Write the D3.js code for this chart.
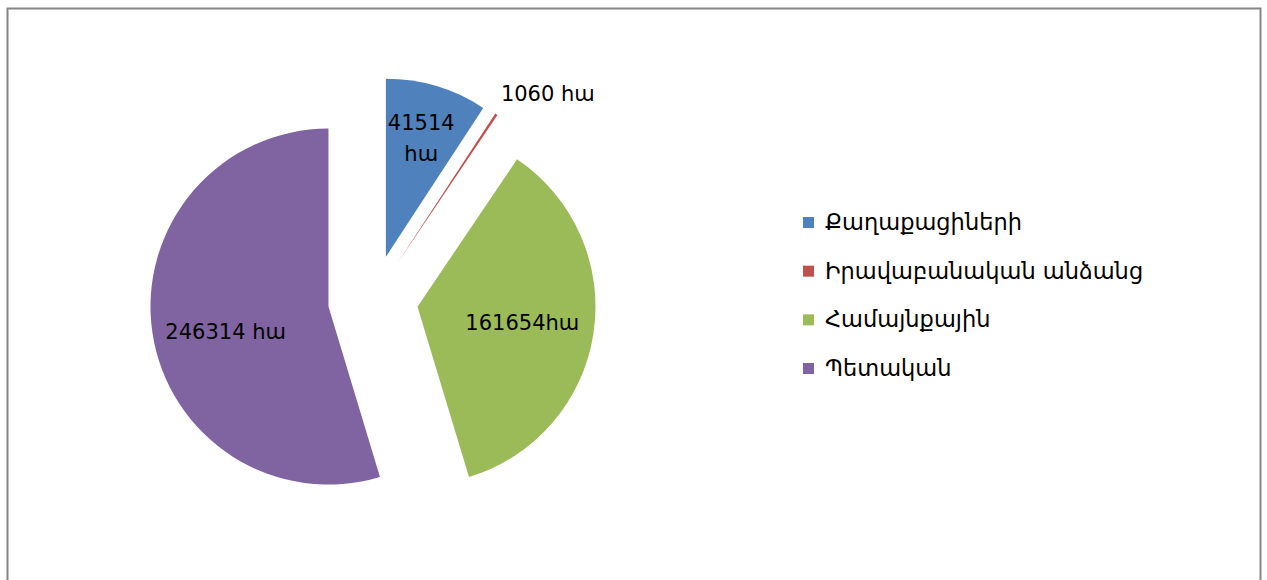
<!DOCTYPE html>
<html>
<head>
<meta charset="utf-8">
<script src="https://cdn.jsdelivr.net/npm/d3@7"></script>
<style>
  body { margin: 0; background: #fff; }
  svg { display: block; }
  text { font-family: "DejaVu Sans", "Noto Sans", sans-serif; fill: #000; }
</style>
</head>
<body>
<svg width="1267" height="580"></svg>
<script>
var categories = ['Քաղաքացիների', 'Իրավաբանական անձանց', 'Համայնքային', 'Պետական'];
var values = [41514, 1060, 161654, 246314];
var labels = [['41514', 'հա'], ['1060 հա'], ['161654հա'], ['246314 հա']];
var colors = ['#4f81bd', '#c0504d', '#9bbb59', '#8064a2'];

var width = 1267, height = 580;
var center = {x: 373, y: 300};
var radius = 178;
var explode = 45;
// label distance from slice apex, plus a small nudge (Excel's best fit placement)
var labelDist = [124, 224, 106, 106];
var labelNudge = [[0, 0], [26, 18], [0, 0], [2, 10]];

var svg = d3.select('svg');

// chart frame
svg.append('rect')
  .attr('x', 7.5).attr('y', 8.5)
  .attr('width', 1253).attr('height', 580)
  .attr('fill', '#fff')
  .attr('stroke', '#868686')
  .attr('stroke-width', 2);

var pie = d3.pie().sort(null).value(d => d);
var arcs = pie(values);

var arc = d3.arc().innerRadius(0).outerRadius(radius);

var g = svg.append('g')
  .attr('transform', 'translate(' + [center.x, center.y] + ')');

function offset(d, dist) {
  var a = (d.startAngle + d.endAngle) / 2;
  return [Math.sin(a) * dist, -Math.cos(a) * dist];
}

var slices = g.selectAll('g.slice')
  .data(arcs)
  .enter().append('g')
  .attr('class', 'slice')
  .attr('transform', d => 'translate(' + offset(d, explode) + ')');

slices.append('path')
  .attr('d', arc)
  .attr('fill', (d, i) => colors[i]);

slices.each(function(d, i) {
  var p = offset(d, labelDist[i]);
  p = [p[0] + labelNudge[i][0], p[1] + labelNudge[i][1]];
  var lines = labels[i];
  var t = d3.select(this).append('text')
    .attr('text-anchor', 'middle')
    .attr('font-size', 21);
  lines.forEach((s, j) => {
    t.append('tspan')
      .attr('x', p[0])
      .attr('y', p[1] + (j - (lines.length - 1) / 2) * 31)
      .attr('dy', '0.35em')
      .text(s);
  });
});

// legend
var legendY = d3.scalePoint()
  .domain(categories)
  .range([222, 368]);

var legend = svg.append('g')
  .selectAll('g')
  .data(categories)
  .enter().append('g')
  .attr('transform', d => 'translate(' + [803, legendY(d)] + ')');

legend.append('rect')
  .attr('x', 0).attr('y', -5)
  .attr('width', 11).attr('height', 11)
  .attr('fill', (d, i) => colors[i]);

legend.append('text')
  .attr('x', 22)
  .attr('y', 0)
  .attr('dy', '0.35em')
  .attr('font-size', 22.5)
  .text(d => d);
</script>
</body>
</html>
